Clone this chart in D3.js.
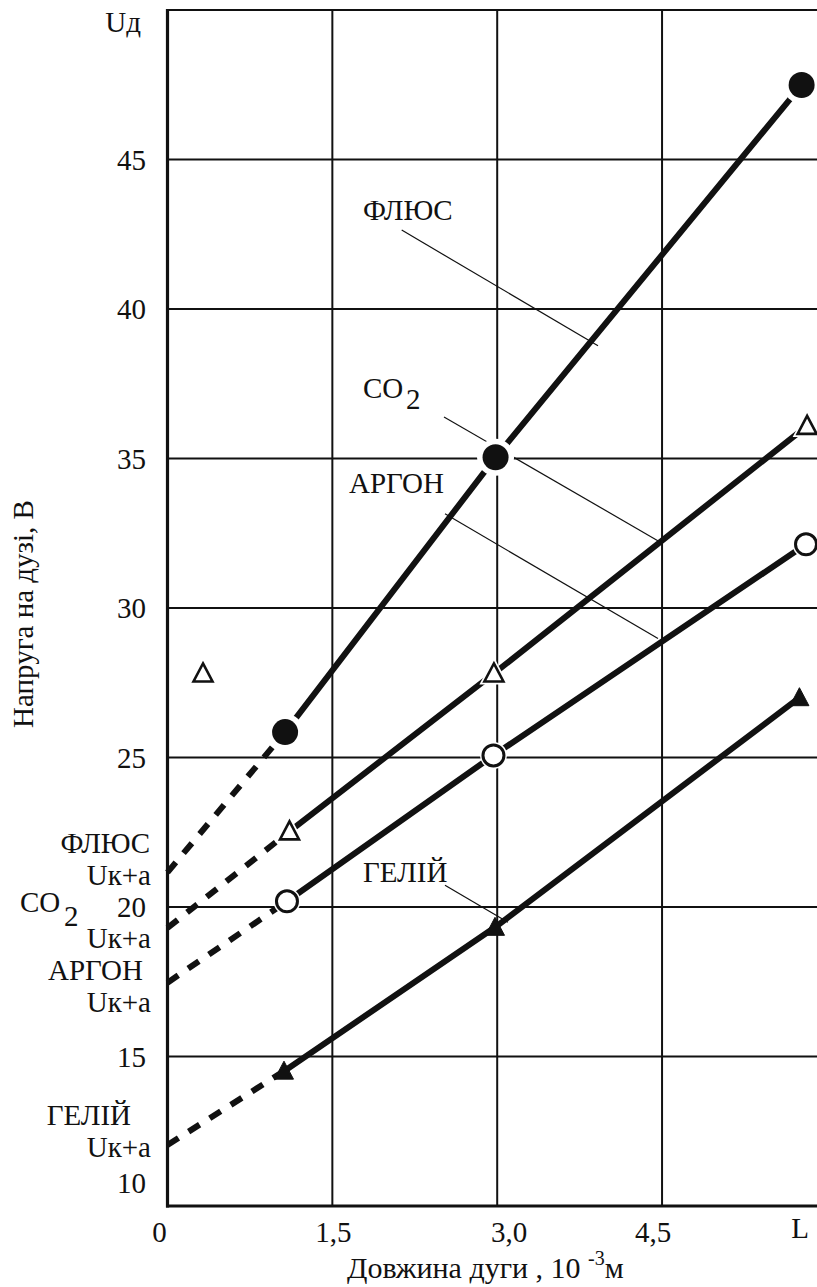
<!DOCTYPE html>
<html><head><meta charset="utf-8">
<script src="https://cdn.jsdelivr.net/npm/d3@7"></script>
<style>
html,body{margin:0;padding:0;background:#fff;}
svg{display:block;}
text{font-family:"Liberation Serif","Times New Roman","DejaVu Serif",serif;fill:#111;}
</style>
</head><body>
<svg id="c" width="817" height="1287"></svg>
<script>
// ---- data ----
const gases = ["ФЛЮС", "CO2", "АРГОН", "ГЕЛІЙ"];
const fluxLength   = [1.07, 2.985, 5.77];
const fluxVoltage  = [25.85, 35.04, 47.49];
const co2Length    = [1.11, 2.97, 5.82];
const co2Voltage   = [22.53, 27.81, 36.09];
const argonLength  = [1.087, 2.966, 5.81];
const argonVoltage = [20.19, 25.07, 32.13];
const heliumLength = [1.06, 2.98, 5.75];
const heliumVoltage= [14.51, 19.32, 27.0];
const intercepts   = [21.16, 19.3, 17.47, 12.04];   // Uк+а at L = 0
const strayLength  = [0.323];
const strayVoltage = [27.81];
const yTicks = [10, 15, 20, 25, 30, 35, 40, 45];
const xTicks = [0, 1.5, 3.0, 4.5];
const xTickLabels = ["0", "1,5", "3,0", "4,5"];
const leaderFrom = [[2.131, 42.64], [2.516, 36.39], [2.525, 33.15], [2.525, 20.73]];
const leaderTo   = [[3.917, 38.77], [4.481, 32.21], [4.463, 28.98], [3.098, 19.49]];

// ---- layout ----
const svg = d3.select("#c");
const x = d3.scaleLinear().domain([0, 6]).range([167.5, 167.5 + 6 * 109.9]);
const y = d3.scaleLinear().domain([10, 50]).range([1206, 10]);
const W = 817, INK = "#111";

const series = [
  {name: gases[0], xs: fluxLength,   ys: fluxVoltage,   b: intercepts[0], marker: "filledCircle"},
  {name: gases[1], xs: co2Length,    ys: co2Voltage,    b: intercepts[1], marker: "openTriangle"},
  {name: gases[2], xs: argonLength,  ys: argonVoltage,  b: intercepts[2], marker: "openCircle"},
  {name: gases[3], xs: heliumLength, ys: heliumVoltage, b: intercepts[3], marker: "filledTriangle"}
];

// grid
const g = svg.append("g");
g.selectAll("line.h").data(yTicks.filter(v => v > 10)).join("line")
  .attr("x1", x(0)).attr("x2", W).attr("y1", d => y(d)).attr("y2", d => y(d))
  .attr("stroke", INK).attr("stroke-width", 2);
g.append("line").attr("x1", x(0)).attr("x2", W).attr("y1", y(50)).attr("y2", y(50))
  .attr("stroke", INK).attr("stroke-width", 2);
g.selectAll("line.v").data(xTicks.filter(v => v > 0)).join("line")
  .attr("x1", d => x(d)).attr("x2", d => x(d)).attr("y1", y(50)).attr("y2", y(10))
  .attr("stroke", INK).attr("stroke-width", 2);
// axes
g.append("line").attr("x1", x(0)).attr("x2", x(0)).attr("y1", y(50) - 1).attr("y2", y(10) + 1.5)
  .attr("stroke", INK).attr("stroke-width", 3.2);
g.append("line").attr("x1", x(0) - 1.5).attr("x2", W).attr("y1", y(10)).attr("y2", y(10))
  .attr("stroke", INK).attr("stroke-width", 3.2);

// lines
const line = d3.line().x(d => x(d[0])).y(d => y(d[1]));
series.forEach(s => {
  const pts = s.xs.map((v, i) => [v, s.ys[i]]);
  svg.append("path").attr("d", line([[0, s.b], pts[0]]))
    .attr("fill", "none").attr("stroke", INK).attr("stroke-width", 6)
    .attr("stroke-dasharray", "13,12");
  svg.append("path").attr("d", line(pts))
    .attr("fill", "none").attr("stroke", INK).attr("stroke-width", 6)
    .attr("stroke-linejoin", "round");
});

// leader lines
leaderFrom.forEach((p, i) => {
  svg.append("line").attr("x1", x(p[0])).attr("y1", y(p[1]))
    .attr("x2", x(leaderTo[i][0])).attr("y2", y(leaderTo[i][1]))
    .attr("stroke", INK).attr("stroke-width", 1.2);
});

// markers
const tri = "M0,-10L9.5,8L-9.5,8Z";
function marker(type, cx, cy) {
  const m = svg.append("g").attr("transform", `translate(${cx},${cy})`);
  if (type === "filledCircle") {
    m.append("circle").attr("r", 18.5).attr("fill", "#fff");
    m.append("circle").attr("r", 13).attr("fill", INK);
  } else if (type === "openCircle") {
    m.append("circle").attr("r", 13.5).attr("fill", "#fff");
    m.append("circle").attr("r", 10.5).attr("fill", "#fff").attr("stroke", INK).attr("stroke-width", 3);
  } else if (type === "openTriangle") {
    m.append("path").attr("d", tri).attr("fill", "#fff").attr("stroke", "#fff").attr("stroke-width", 6);
    m.append("path").attr("d", tri).attr("fill", "#fff").attr("stroke", INK).attr("stroke-width", 2.6);
  } else {
    m.append("path").attr("d", tri).attr("fill", INK).attr("stroke", INK).attr("stroke-width", 1);
  }
}
series.forEach(s => s.xs.forEach((v, i) => marker(s.marker, x(v), y(s.ys[i]))));
strayLength.forEach((v, i) => marker("openTriangle", x(v), y(strayVoltage[i])));

// ---- text ----
const FS = 29;
function txt(str, px, py, anchor, size) {
  return svg.append("text").attr("x", px).attr("y", py)
    .attr("text-anchor", anchor || "start").attr("dominant-baseline", "central")
    .attr("font-size", size || FS).text(str);
}
// y tick labels
yTicks.forEach(v => txt(String(v), 146, y(v) - (v === 10 ? 23 : 0), "end"));
txt("Uд", 141, 22, "end");
// x tick labels
const xNudge = [-8, 1, 12, -9];
xTicks.forEach((v, i) => txt(xTickLabels[i], x(v) + xNudge[i], 1232, "middle"));
txt("L", 800, 1228, "middle");

// left annotations (Uк+а)
txt("ФЛЮС", 150, 843, "end");
txt("Uк+а", 151, 875, "end");
txt("CO", 20, 902, "start");
txt("2", 64, 916, "start");
txt("Uк+а", 151, 938, "end");
txt("АРГОН", 143, 970, "end");
txt("Uк+а", 151, 1002, "end");
txt("ГЕЛІЙ", 131, 1115, "end");
txt("Uк+а", 151, 1147, "end");

// in-plot labels
txt("ФЛЮС", 363, 210, "start");
txt("CO", 363, 388, "start");
txt("2", 406, 399, "start");
txt("АРГОН", 349, 483, "start");
txt("ГЕЛІЙ", 363, 872, "start");

// axis titles
const xt = svg.append("text").attr("x", 347).attr("y", 1278).attr("font-size", 30);
xt.append("tspan").text("Довжина дуги , 10 ");
xt.append("tspan").attr("font-size", 20).attr("dy", -13).text("-3");
xt.append("tspan").attr("dy", 13).text("м");

svg.append("text").attr("transform", "translate(33,614) rotate(-90)")
  .attr("text-anchor", "middle").attr("font-size", FS).text("Напруга на дузі, В");
</script>
</body></html>
